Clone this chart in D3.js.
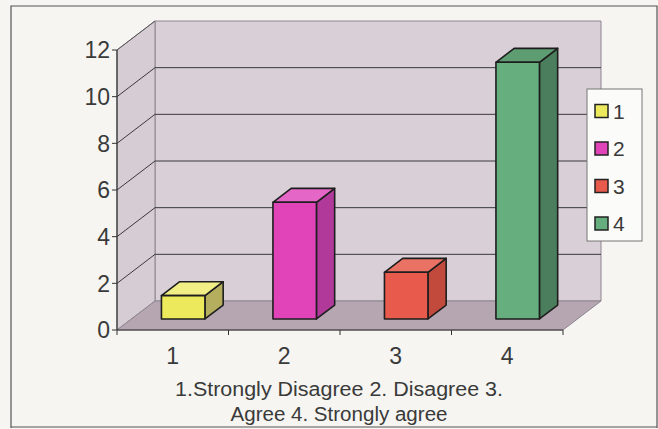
<!DOCTYPE html>
<html><head><meta charset="utf-8">
<script src="https://cdn.jsdelivr.net/npm/d3@7"></script>
<style>
html,body{margin:0;padding:0;background:#f6f5f1;}
svg{display:block;font-family:"Liberation Sans",Arial,sans-serif;}
</style></head>
<body><svg id="c" width="658" height="429"></svg>
<script>
const categories = ["1","2","3","4"];
const values = [1, 5, 2, 11];
const yTicks = [0, 2, 4, 6, 8, 10, 12];
const legendLabels = ["1","2","3","4"];
const captionLines = ["1.Strongly Disagree 2. Disagree 3.", "Agree 4. Strongly agree"];
const frontColors = ["#ecea5c", "#e044b8", "#e85a4c", "#66ae7e"];
const topColors   = ["#f2ee86", "#e466c6", "#ea7264", "#5e9c72"];
const sideColors  = ["#b4ae5e", "#b0399a", "#c24a3c", "#4a7e5c"];

const svg = d3.select("#c");
const DX = 38, DY = 29;               // full depth offset
const off = d => [d * DX, -d * DY];
const y = d3.scaleLinear().domain([0, 12]).range([330, 50]);
const x = d3.scaleBand().domain(categories).range([117, 563]).paddingInner(0).paddingOuter(0);
const line = d3.line();

// outer frame
svg.append("path").attr("d", line([[11,428],[11,6],[657,6],[657,428]]))
  .attr("fill","none").attr("stroke","#555").attr("stroke-width",1.2);
svg.append("line").attr("x1",11).attr("x2",657).attr("y1",427).attr("y2",427).attr("stroke","#555").attr("stroke-width",1.2);

const x0 = x.range()[0], x1 = x.range()[1];
const [bx, by] = off(1);
// back wall
svg.append("path").attr("d", line([[x0+bx,y(12)+by],[x1+bx,y(12)+by],[x1+bx,y(0)+by],[x0+bx,y(0)+by]])+"Z")
  .attr("fill","#d9cfd7").attr("stroke","#8d8590").attr("stroke-width",1);
// left wall
svg.append("path").attr("d", line([[x0,y(12)],[x0+bx,y(12)+by],[x0+bx,y(0)+by],[x0,y(0)]])+"Z")
  .attr("fill","#d6ccd4").attr("stroke","#8d8590").attr("stroke-width",1);
// floor
svg.append("path").attr("d", line([[x0,y(0)],[x0+bx,y(0)+by],[x1+bx,y(0)+by],[x1,y(0)]])+"Z")
  .attr("fill","#b6a6b2").attr("stroke","#8d8590").attr("stroke-width",1);

// gridlines
yTicks.filter(t => t > 0 && t < 12).forEach(t => {
  svg.append("path").attr("d", line([[x0, y(t)], [x0+bx, y(t)+by], [x1+bx, y(t)+by]]))
    .attr("fill","none").attr("stroke","#3a3a3a").attr("stroke-width",1);
});
svg.append("path").attr("d", line([[x0, y(12)], [x0+bx, y(12)+by]]))
  .attr("fill","none").attr("stroke","#555").attr("stroke-width",1);

// y axis
svg.append("line").attr("x1",x0).attr("x2",x0).attr("y1",y(0)).attr("y2",y(12)).attr("stroke","#333").attr("stroke-width",1.2);
const yt = svg.append("g");
yTicks.forEach(t => {
  yt.append("line").attr("x1",x0-5).attr("x2",x0).attr("y1",y(t)).attr("y2",y(t)).attr("stroke","#333");
  yt.append("text").attr("x",x0-7).attr("y",y(t)).attr("dy","0.36em").attr("text-anchor","end")
    .attr("font-size",23).attr("fill","#3a3a3a").text(t);
});

// x axis
svg.append("line").attr("x1",x0).attr("x2",x1).attr("y1",y(0)).attr("y2",y(0)).attr("stroke","#333").attr("stroke-width",1.2);
[...categories.map(c => x(c)), x1].forEach(px => {
  svg.append("line").attr("x1",px).attr("x2",px).attr("y1",y(0)).attr("y2",y(0)+5).attr("stroke","#333");
});
categories.forEach(c => {
  svg.append("text").attr("x", x(c)+x.bandwidth()/2).attr("y", 364).attr("text-anchor","middle")
    .attr("font-size",23).attr("fill","#3a3a3a").text(c);
});

// bars
const d0 = 0.38, d1 = 0.86, bw = 0.39;
categories.forEach((c, i) => {
  const cx = x(c) + x.bandwidth()/2;
  const [fx, fy] = off(d0), [kx, ky] = off(d1);
  const L = cx - bw*x.bandwidth()/2 + fx - 4, R = cx + bw*x.bandwidth()/2 + fx - 4;
  const T = y(values[i]) + fy, B = y(0) + fy;
  const ddx = kx - fx, ddy = ky - fy;
  const g = svg.append("g").attr("stroke","#1e1e1e").attr("stroke-width",1.6).attr("stroke-linejoin","round");
  g.append("path").attr("d", line([[R,B],[R+ddx,B+ddy],[R+ddx,T+ddy],[R,T]])+"Z").attr("fill",sideColors[i]);
  g.append("path").attr("d", line([[L,T],[L+ddx,T+ddy],[R+ddx,T+ddy],[R,T]])+"Z").attr("fill",topColors[i]);
  g.append("rect").attr("x",L).attr("y",T).attr("width",R-L).attr("height",B-T).attr("fill",frontColors[i]);
});

// legend
const lg = svg.append("g");
lg.append("rect").attr("x",587).attr("y",89).attr("width",55).attr("height",152)
  .attr("fill","#fbfbf9").attr("stroke","#777").attr("stroke-width",1);
legendLabels.forEach((l, i) => {
  const cy = 111 + i*37.5;
  lg.append("rect").attr("x",595).attr("y",cy-6.5).attr("width",13).attr("height",13)
    .attr("fill",frontColors[i]).attr("stroke","#222").attr("stroke-width",1.5);
  lg.append("text").attr("x",613).attr("y",cy).attr("dy","0.36em").attr("font-size",21).attr("fill","#3a3a3a").text(l);
});

// caption
const capLen = [328, 217];
captionLines.forEach((t, i) => {
  svg.append("text").attr("x",339).attr("y",396 + i*25).attr("text-anchor","middle")
    .attr("font-size",20).attr("fill","#3a3a3a")
    .attr("textLength", capLen[i]).attr("lengthAdjust","spacingAndGlyphs").text(t);
});
</script></body></html>
